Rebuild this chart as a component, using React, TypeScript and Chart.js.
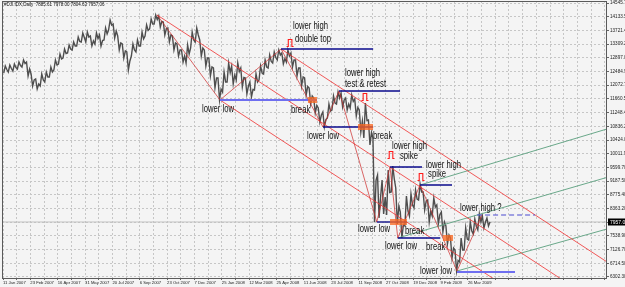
import React, { useEffect, useRef } from 'react';
import { Chart, registerables } from 'chart.js';

Chart.register(...registerables);

const header = '#DJI.IDX,Daily  7885.61 7978.00 7804.63 7957.06';
const dateLabels = ['11 Jan 2007', '23 Feb 2007', '16 Apr 2007', '31 May 2007', '20 Jul 2007', '6 Sep 2007', '23 Oct 2007', '7 Dec 2007', '25 Jan 2008', '12 Mar 2008', '25 Apr 2008', '11 Jun 2008', '23 Jul 2008', '11 Sep 2008', '27 Oct 2008', '19 Dec 2008', '9 Feb 2009', '26 Mar 2009'];
const barsPerDateLabel = 30;
const priceTicks = [14545.7, 14133.5, 13721.4, 13309.2, 12897.0, 12484.9, 12072.7, 11660.5, 11248.4, 10836.2, 10424.0, 10011.9, 9599.7, 9187.5, 8775.4, 8363.2, 7951.0, 7538.9, 7126.7, 6714.5, 6302.3];
const lastClose = 7957.06;

// price range (high / low) for each block of 5 daily bars
const barsPerBlock = 5;
const blockHigh = [
  12650, 12680, 12711, 12771, 12831, 12771, 12410, 12259, 12410, 12470,
  12620, 12831, 13011, 13162, 13282, 13372, 13523, 13643, 13673, 13553,
  13643, 13583, 13794, 14034, 13914, 13553, 13312, 13072, 13312, 13433,
  13673, 13884, 14064, 14185, 14155, 13974, 13794, 13553, 13312, 13132,
  13282, 13673, 13794, 13433, 13132, 12891, 12590, 12289, 12470, 12741,
  12650, 12741, 12590, 12289, 12169, 12410, 12650, 12831, 12981, 13072,
  13132, 13041, 13132, 13041, 12831, 12590, 12289, 11989, 11688, 11387,
  11266, 11507, 11748, 11868, 11838, 11688, 11778, 11658, 11327, 11537,
  11026, 10484, 9371, 9221, 9522, 9642, 8980, 8258, 8739, 8800,
  8920, 9100, 8860, 8619, 8679, 8469, 8258, 7837, 7476, 7115,
  7476, 7777, 7957, 8047, 8198, 8138, 8077,
];
const blockLow = [
  12440, 12470, 12500, 12560, 12620, 12350, 12049, 11958, 12049, 12169,
  12319, 12530, 12711, 12891, 13041, 13132, 13252, 13372, 13372, 13252,
  13312, 13252, 13433, 13733, 13493, 13132, 12891, 12530, 12951, 13072,
  13252, 13553, 13764, 13914, 13824, 13583, 13372, 13132, 12951, 12771,
  12741, 13192, 13372, 12951, 12650, 12350, 11989, 11627, 11868, 12169,
  12109, 12229, 12019, 11808, 11718, 11928, 12229, 12410, 12590, 12741,
  12831, 12711, 12771, 12620, 12350, 12049, 11778, 11507, 11236, 10966,
  10815, 11086, 11327, 11507, 11417, 11327, 11387, 11146, 10665, 10484,
  10274, 7957, 8077, 8198, 8168, 8860, 7897, 7476, 7837, 8138,
  8378, 8619, 8318, 7957, 8138, 7897, 7656, 7295, 6874, 6483,
  6754, 7115, 7416, 7596, 7716, 7777, 7837,
];

// swing points (bar index, price)
const swingBar = [169, 238, 305, 351, 368.6, 410, 424.5, 433, 457.4, 498, 525.4];
const swingPrice = [14185, 11627, 13162, 10815, 11898, 7957, 9612, 7476, 9070, 6483, 8168];

// red channel lines
const channelStartBar = [169, 305, 238];
const channelStartPrice = [14185, 13162, 11627];
const channelEndBar = [662.5, 662.5, 560];
const channelEndPrice = [5340, 6755, 5857];

// green rising lines
const forkStartBar = [457.4, 433, 498];
const forkStartPrice = [9070, 7476, 6483];
const forkEndBar = [662.5, 662.5, 662.5];
const forkEndPrice = [10755, 9299, 7746];

// horizontal levels
const levelStart = [305, 238, 368.6, 351, 424.5, 457.4, 410, 433, 498, 520];
const levelEnd = [406, 344.4, 435.5, 406, 459.6, 492.5, 443, 479.3, 561.6, 583.5];
const levelPrice = [13162, 11627, 11898, 10815, 9612, 9070, 7957, 7476, 6453, 8168];
const levelKind = ['high', 'lowBold', 'high', 'low', 'high', 'high', 'low', 'low', 'lowBold', 'open'];

// break marks
const breakStart = [334.5, 389.4, 424.5, 482.6];
const breakEnd = [344.4, 405.8, 443.1, 493.6];
const breakPrice = [11627, 10815, 7957, 7476];

// pulse markers
const pulseBar = [314.9, 397, 425.6, 458.5];
const pulsePrice = [13342, 11718, 9973, 9311];

// notes
const noteText = ['lower high', 'double top', 'lower high', 'test & retest', 'lower low', 'break', 'lower low', 'break', 'lower high', 'spike', 'lower high', 'spike', 'lower high ?', 'lower low', 'break', 'lower low', 'break', 'lower low'];
const noteBar = [318.1, 320.3, 375.1, 375.1, 218.3, 315.9, 333.4, 405.8, 426.7, 435.4, 464, 466.2, 501.3, 389.4, 440.9, 419, 464, 457.4];
const notePrice = [13854, 13463, 12440, 12109, 11357, 11327, 10544, 10544, 10244, 9943, 9672, 9401, 8378, 7747, 7686, 7235, 7205, 6483];

export default function App() {
  const ref = useRef<HTMLCanvasElement>(null);

  useEffect(() => {
    const canvas = ref.current;
    if (!canvas) return;
    const family = '"Liberation Sans", Arial, Helvetica, sans-serif';
    const xMin = -1.1;
    const xMax = 662.5;
    const yMin = 6242;
    const yMax = 14606;

    const levelStyle: Record<string, any> = {
      high: { color: '#0a0a8c', width: 1.3, dash: [] },
      low: { color: '#0a0a8c', width: 1.3, dash: [] },
      lowBold: { color: '#6e6ef0', width: 2.2, dash: [] },
      open: { color: '#4a4ad0', width: 1.2, dash: [5, 3] },
    };

    const seg = (x1: number, p1: number, x2: number, p2: number, color: string, width: number, dash: number[] = []) => ({
      type: 'line' as const,
      data: [{ x: x1, y: p1 }, { x: x2, y: p2 }],
      borderColor: color,
      borderWidth: width,
      borderDash: dash,
      pointRadius: 0,
      fill: false,
      tension: 0,
    });

    const datasets: any[] = [];
    levelPrice.forEach((p, i) => {
      const s = levelStyle[levelKind[i]];
      datasets.push(seg(levelStart[i], p, levelEnd[i], p, s.color, s.width, s.dash));
    });
    datasets.push({
      type: 'line',
      data: swingBar.map((b, i) => ({ x: b, y: swingPrice[i] })),
      borderColor: 'rgba(205,45,45,0.9)',
      borderWidth: 0.8,
      pointRadius: 0,
      fill: false,
      tension: 0,
    });
    channelStartBar.forEach((b, i) => {
      datasets.push(seg(b, channelStartPrice[i], channelEndBar[i], channelEndPrice[i], 'rgba(240,60,60,0.95)', 0.9));
    });
    forkStartBar.forEach((b, i) => {
      datasets.push(seg(b, forkStartPrice[i], forkEndBar[i], forkEndPrice[i], '#6aa88a', 1));
    });
    // price path: alternating block high / low, giving the dense bar texture
    const pricePath: { x: number; y: number }[] = [];
    blockHigh.forEach((h, i) => {
      const x0 = i * barsPerBlock;
      const up = i === 0 || h >= blockHigh[i - 1];
      if (up) {
        pricePath.push({ x: x0 + 0.8, y: blockLow[i] });
        pricePath.push({ x: x0 + 2.5, y: h });
        pricePath.push({ x: x0 + 4.2, y: (h + blockLow[i]) / 2 });
      } else {
        pricePath.push({ x: x0 + 0.8, y: h });
        pricePath.push({ x: x0 + 2.5, y: blockLow[i] });
        pricePath.push({ x: x0 + 4.2, y: (h + blockLow[i]) / 2 });
      }
    });
    datasets.push({
      type: 'line',
      data: pricePath,
      borderColor: '#4e4e4e',
      borderWidth: 1.4,
      pointRadius: 0,
      fill: false,
      tension: 0,
    });
    datasets.push(seg(xMin, lastClose, xMax, lastClose, '#c2c2c2', 1));

    const deco = {
      id: 'deco',
      beforeDraw(chart: any) {
        const ctx = chart.ctx;
        ctx.save();
        ctx.fillStyle = '#f4f4f4';
        ctx.fillRect(0, 0, chart.width, chart.height);
        ctx.restore();
      },
      afterDatasetsDraw(chart: any) {
        const ctx = chart.ctx;
        const xs = chart.scales.x;
        const ys = chart.scales.y;
        const a = chart.chartArea;
        ctx.save();
        ctx.beginPath();
        ctx.rect(a.left, a.top, a.right - a.left, a.bottom - a.top);
        ctx.clip();
        ctx.fillStyle = 'rgba(250,105,35,0.78)';
        breakPrice.forEach((p, i) => {
          const x1 = xs.getPixelForValue(breakStart[i]);
          const x2 = xs.getPixelForValue(breakEnd[i]);
          const y = ys.getPixelForValue(p);
          ctx.fillRect(x1, y - 3, x2 - x1, 6);
        });
        ctx.strokeStyle = '#ff1a1a';
        ctx.lineWidth = 1.1;
        pulsePrice.forEach((p, i) => {
          const x = xs.getPixelForValue(pulseBar[i]);
          const y = ys.getPixelForValue(p);
          ctx.beginPath();
          ctx.moveTo(x - 3.5, y + 3.5);
          ctx.lineTo(x - 1.8, y + 3.5);
          ctx.lineTo(x - 1.8, y - 3.5);
          ctx.lineTo(x + 1.8, y - 3.5);
          ctx.lineTo(x + 1.8, y + 3.5);
          ctx.lineTo(x + 3.5, y + 3.5);
          ctx.stroke();
        });
        ctx.fillStyle = '#111';
        ctx.font = `10px ${family}`;
        ctx.textBaseline = 'middle';
        ctx.textAlign = 'left';
        noteText.forEach((t, i) => {
          const x = xs.getPixelForValue(noteBar[i]);
          const y = ys.getPixelForValue(notePrice[i]);
          ctx.save();
          ctx.translate(x, y);
          ctx.scale(0.77, 1);
          ctx.fillText(t, 0, 0);
          ctx.restore();
        });
        ctx.restore();
      },
      afterDraw(chart: any) {
        const ctx = chart.ctx;
        const a = chart.chartArea;
        const ys = chart.scales.y;
        ctx.save();
        ctx.strokeStyle = '#5a5a5a';
        ctx.lineWidth = 1;
        ctx.strokeRect(a.left + 0.5, a.top + 0.5, a.right - a.left - 1, a.bottom - a.top - 1);
        ctx.fillStyle = '#111';
        ctx.font = `4.5px ${family}`;
        ctx.textBaseline = 'middle';
        ctx.textAlign = 'left';
        ctx.fillText(header, a.left + 2, a.top + 3.5);
        const y = ys.getPixelForValue(lastClose);
        ctx.fillStyle = '#000';
        ctx.fillRect(a.right + 1, y - 3.5, chart.width - a.right - 1, 7);
        ctx.fillStyle = '#fff';
        ctx.font = `5px ${family}`;
        ctx.fillText(lastClose.toFixed(2), a.right + 3, y + 0.3);
        ctx.restore();
      },
    };

    const chart = new Chart(canvas, {
      type: 'line',
      data: { datasets },
      options: {
        animation: false,
        responsive: false,
        maintainAspectRatio: false,
        events: [],
        layout: { padding: { left: 2, top: 1, right: 0, bottom: 0 } },
        plugins: { legend: { display: false }, tooltip: { enabled: false } },
        scales: {
          x: {
            type: 'linear',
            min: xMin,
            max: xMax,
            afterBuildTicks: (s: any) => {
              const t: any[] = [];
              for (let v = 0; v <= xMax; v += barsPerDateLabel / 2) t.push({ value: v });
              s.ticks = t;
            },
            ticks: {
              autoSkip: false,
              maxRotation: 0,
              minRotation: 0,
              align: 'start',
              padding: 0,
              color: '#222',
              font: { size: 4.2, family },
              callback: (v: any) => {
                const n = Number(v);
                const k = n / barsPerDateLabel;
                return Number.isInteger(k) && k < dateLabels.length ? dateLabels[k] : '';
              },
            },
            grid: { color: '#c6c6c6', lineWidth: 1, drawTicks: true, tickLength: 1, tickColor: '#666' },
            border: { display: false, dash: [2, 2] },
            afterFit: (s: any) => {
              s.height = 8;
              s.paddingLeft = 0;
              s.paddingRight = 0;
            },
          },
          y: {
            type: 'linear',
            position: 'right',
            min: yMin,
            max: yMax,
            afterBuildTicks: (s: any) => {
              s.ticks = priceTicks.map((v) => ({ value: v }));
            },
            ticks: {
              autoSkip: false,
              padding: 1,
              color: '#222',
              font: { size: 4.6, family },
              callback: (v: any) => Number(v).toFixed(2),
            },
            grid: { color: '#c6c6c6', lineWidth: 1, drawTicks: true, tickLength: 2, tickColor: '#666' },
            border: { display: false, dash: [2, 2] },
            afterFit: (s: any) => {
              s.width = 18;
              s.paddingTop = 0;
              s.paddingBottom = 0;
            },
          },
        },
      } as any,
      plugins: [deco],
    });
    return () => chart.destroy();
  }, []);

  return (
    <div style={{ position: 'fixed', left: 0, top: 0, width: 625, height: 287, background: '#f4f4f4' }}>
      <canvas ref={ref} width={625} height={287} style={{ display: 'block', width: 625, height: 287 }} />
    </div>
  );
}
